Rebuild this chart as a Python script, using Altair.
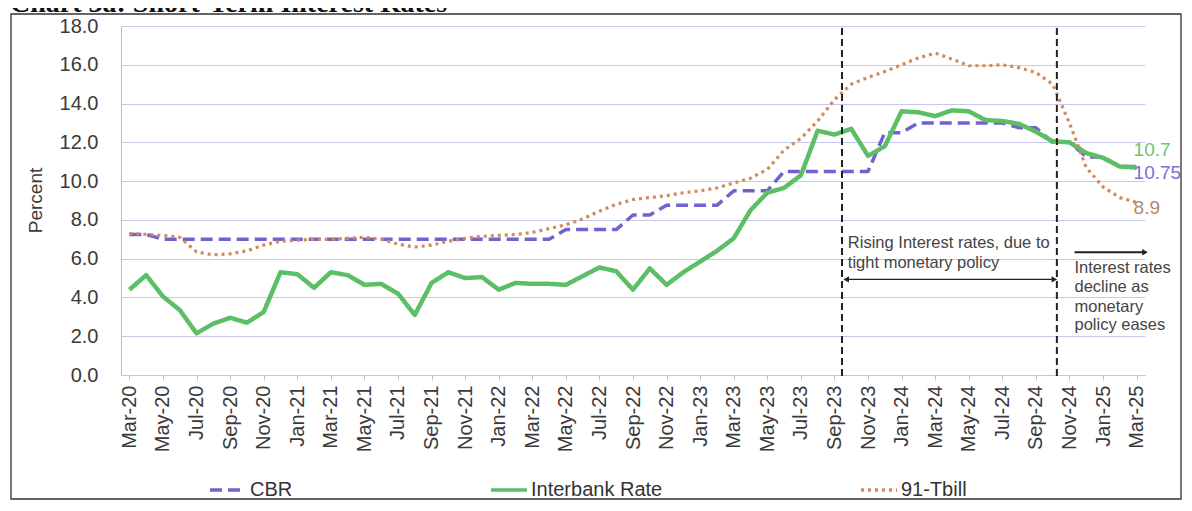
import json
import altair as alt
import pandas as pd

months = ["Mar-20", "Apr-20", "May-20", "Jun-20", "Jul-20", "Aug-20", "Sep-20", "Oct-20", "Nov-20", "Dec-20",
          "Jan-21", "Feb-21", "Mar-21", "Apr-21", "May-21", "Jun-21", "Jul-21", "Aug-21", "Sep-21", "Oct-21",
          "Nov-21", "Dec-21", "Jan-22", "Feb-22", "Mar-22", "Apr-22", "May-22", "Jun-22", "Jul-22", "Aug-22",
          "Sep-22", "Oct-22", "Nov-22", "Dec-22", "Jan-23", "Feb-23", "Mar-23", "Apr-23", "May-23", "Jun-23",
          "Jul-23", "Aug-23", "Sep-23", "Oct-23", "Nov-23", "Dec-23", "Jan-24", "Feb-24", "Mar-24", "Apr-24",
          "May-24", "Jun-24", "Jul-24", "Aug-24", "Sep-24", "Oct-24", "Nov-24", "Dec-24", "Jan-25", "Feb-25",
          "Mar-25"]

cbr = [7.25, 7.25, 7.0, 7.0, 7.0, 7.0, 7.0, 7.0, 7.0, 7.0,
       7.0, 7.0, 7.0, 7.0, 7.0, 7.0, 7.0, 7.0, 7.0, 7.0,
       7.0, 7.0, 7.0, 7.0, 7.0, 7.0, 7.5, 7.5, 7.5, 7.5,
       8.25, 8.25, 8.75, 8.75, 8.75, 8.75, 9.5, 9.5, 9.5, 10.5,
       10.5, 10.5, 10.5, 10.5, 10.5, 12.5, 12.5, 13.0, 13.0, 13.0,
       13.0, 13.0, 13.0, 12.75, 12.75, 12.0, 12.0, 11.25, 11.25, 10.75,
       10.75]

interbank = [4.4, 5.15, 4.05, 3.35, 2.15, 2.65, 2.95, 2.7, 3.25, 5.3,
             5.2, 4.5, 5.3, 5.15, 4.65, 4.7, 4.2, 3.1, 4.75, 5.3,
             5.0, 5.05, 4.4, 4.75, 4.7, 4.7, 4.65, 5.1, 5.55, 5.35,
             4.4, 5.5, 4.65, 5.3, 5.85, 6.4, 7.05, 8.5, 9.4, 9.65,
             10.3, 12.6, 12.4, 12.7, 11.3, 11.8, 13.6, 13.55, 13.35, 13.65,
             13.6, 13.15, 13.1, 12.95, 12.55, 12.05, 12.0, 11.45, 11.2, 10.75,
             10.7]

tbill = [7.3, 7.25, 7.2, 7.1, 6.35, 6.2, 6.25, 6.4, 6.7, 6.9,
         6.95, 7.0, 7.0, 7.05, 7.1, 7.0, 6.75, 6.6, 6.7, 6.9,
         7.05, 7.15, 7.2, 7.25, 7.35, 7.55, 7.75, 8.05, 8.45, 8.8,
         9.05, 9.15, 9.25, 9.4, 9.5, 9.65, 9.9, 10.15, 10.6, 11.6,
         12.2, 13.1, 14.2, 15.0, 15.35, 15.65, 16.0, 16.35, 16.6, 16.3,
         15.95, 15.95, 16.0, 15.85, 15.6, 15.0, 13.0, 10.7, 9.7, 9.15,
         8.9]

series_names = ["CBR", "Interbank Rate", "91-Tbill"]
series_colors = ["#7062d0", "#5cbf66", "#d08a5e"]
label_colors = ["#7b6ed6", "#6cc46f", "#b58a6e"]
series_dash = [[12, 6], [1, 0], [3, 4]]

y_ticks = [0, 2, 4, 6, 8, 10, 12, 14, 16, 18]
x_tick_idx = list(range(0, 61, 2))

policy_lines = [42.45, 55.25]

ann_text = ["Rising Interest rates, due to", "tight monetary policy",
            "Interest rates", "decline as", "monetary", "policy eases"]
ann_x = [42.8, 42.8, 56.3, 56.3, 56.3, 56.3]
ann_y = [6.79, 5.76, 5.52, 4.54, 3.51, 2.58]

arrow_x1 = [42.7, 56.3]
arrow_x2 = [55.1, 60.5]
arrow_y = [4.93, 6.33]
arrow_w = [1.2, 2.0]
head_x = [42.7, 55.1, 60.5]
head_y = [4.93, 4.93, 6.33]
head_shape = ["triangle-left", "triangle-right", "triangle-right"]

title_text = "Chart 3a: Short-Term Interest Rates"

FONT = "Liberation Sans"

rows = []
for name, vals in zip(series_names, [cbr, interbank, tbill]):
    for i, (m, v) in enumerate(zip(months, vals)):
        rows.append({"i": i, "month": m, "series": name, "value": v})
df = pd.DataFrame(rows)

label_expr = json.dumps(months) + "[datum.value]"

x_axis = alt.Axis(values=x_tick_idx, labelExpr=label_expr, labelAngle=-90,
                  labelFontSize=20, labelFont=FONT, labelColor="#3a3a3a",
                  labelPadding=5, labelOverlap=False, labelFlush=False,
                  tickSize=5, tickColor="#c4c4c4", domainColor="#c8c8c8",
                  grid=False, title=None)
y_axis = alt.Axis(values=y_ticks, format=".1f", grid=True, gridColor="#c6c9ee",
                  gridWidth=1.2, tickSize=0, labelPadding=23, labelFontSize=20,
                  labelOverlap=False, labelFlush=False,
                  labelFont=FONT, labelColor="#3a3a3a", domainColor="#b3b6da",
                  title="Percent", titleFontSize=19, titleFont=FONT,
                  titleFontWeight="normal", titleColor="#3a3a3a",
                  titleX=-86, titleY=174, titleAngle=270,
                  titleAlign="center", titleBaseline="middle")

x_scale = alt.Scale(domain=[-0.5, 60.5], nice=False, zero=False)
y_scale = alt.Scale(domain=[0, 18], nice=False, zero=True)

x_enc = alt.X("i:Q", scale=x_scale, axis=x_axis)
y_enc = alt.Y("value:Q", scale=y_scale, axis=y_axis)

legend = alt.Legend(orient="none", legendX=87, legendY=444, direction="horizontal",
                    title=None, labelFontSize=20, labelFont=FONT, labelColor="#333333",
                    symbolType="stroke", symbolSize=1300, symbolStrokeWidth=3.5,
                    columnPadding=190, labelOffset=2)

color_enc = alt.Color("series:N", scale=alt.Scale(domain=series_names, range=series_colors),
                      legend=legend)
dash_enc = alt.StrokeDash("series:N", scale=alt.Scale(domain=series_names, range=series_dash),
                          legend=legend)

base = alt.Chart(df)

def series_line(name, width):
    return base.transform_filter(alt.datum.series == name).mark_line(
        strokeWidth=width, strokeJoin="round").encode(
        x=x_enc, y=y_enc, color=color_enc, strokeDash=dash_enc, order="i:Q")

line_cbr = series_line("CBR", 3.5)
line_ib = series_line("Interbank Rate", 4.5)
line_tb = series_line("91-Tbill", 3.2)

def end_label(name, color, dy):
    return base.transform_filter(
        (alt.datum.series == name) & (alt.datum.i == 60)).mark_text(
        align="left", baseline="middle", dx=-3, dy=dy, fontSize=19, font=FONT,
        color=color).encode(x=x_enc, y=y_enc, text=alt.Text("value:Q"))

lab_cbr = end_label("CBR", label_colors[0], 6)
lab_ib = end_label("Interbank Rate", label_colors[1], -18)
lab_tb = end_label("91-Tbill", label_colors[2], 6)

vline_df = pd.DataFrame({"i": policy_lines})
vlines = alt.Chart(vline_df).mark_rule(color="#222222", strokeWidth=2, strokeDash=[7, 4]).encode(
    x=x_enc, y=alt.value(2), y2=alt.value(350))

ann_df = pd.DataFrame({"i": ann_x, "value": ann_y, "t": ann_text})
ann = alt.Chart(ann_df).mark_text(align="left", baseline="middle", fontSize=16.5, font=FONT,
                                  color="#444444").encode(x=x_enc, y=y_enc, text="t:N")

arrow_df = pd.DataFrame({"i": arrow_x1, "i2": arrow_x2, "value": arrow_y, "w": arrow_w})
arrows = alt.Chart(arrow_df).mark_rule(color="#222222").encode(
    x=x_enc, x2="i2:Q", y=y_enc, strokeWidth=alt.StrokeWidth("w:Q", scale=None))

head_df = pd.DataFrame({"i": head_x, "value": head_y, "s": head_shape})
heads = alt.Chart(head_df).mark_point(filled=True, color="#222222", size=40, opacity=1).encode(
    x=x_enc, y=y_enc, shape=alt.Shape("s:N", scale=None))

one = pd.DataFrame({"a": [0]})
frame = alt.Chart(one).mark_rect(fill="transparent", stroke="#333333", strokeWidth=1.3).encode(
    x=alt.value(-110), x2=alt.value(1060), y=alt.value(-12), y2=alt.value(473))
title = alt.Chart(one).mark_text(text=title_text, font="Liberation Serif", fontSize=28,
                                 fontWeight="bold", align="left", baseline="alphabetic",
                                 color="#111111").encode(x=alt.value(-111), y=alt.value(-14))

chart = alt.layer(
    frame, title, line_cbr, line_ib, line_tb, vlines, arrows, heads, ann, lab_cbr, lab_ib, lab_tb
).properties(
    width=1024, height=349,
    autosize=alt.AutoSizeParams(type="none"),
    padding={"left": 113, "top": 18, "right": 39, "bottom": 126},
).configure_view(strokeWidth=0).configure_axis(labelOverlap=False)

chart.save("out.html", embed_options={"renderer": "svg", "actions": False})
